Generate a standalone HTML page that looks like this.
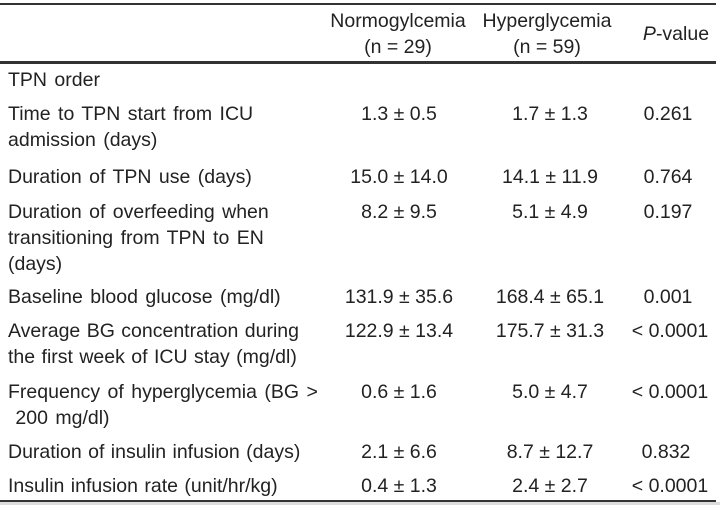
<!DOCTYPE html>
<html><head><meta charset="utf-8"><style>
body{margin:0;width:720px;height:505px;background:#fff;position:relative;overflow:hidden;font-family:"Liberation Sans",sans-serif;font-size:19.5px;color:#222}
.l{position:absolute;left:8px;line-height:26px;white-space:nowrap;word-spacing:2px}
.c{position:absolute;width:180px;margin-left:-90px;text-align:center;line-height:26px;white-space:nowrap}
.h{position:absolute;left:0;width:716px;background:#333}
</style></head><body>
<div class="h" style="top:3px;height:2px"></div>
<div class="h" style="top:61px;height:3px"></div>
<div class="h" style="top:500px;height:2px"></div>
<div style="position:absolute;left:0;top:502px;width:720px;height:3px;background:#ddd"></div>

<div class="c" style="left:398px;top:8px">Normogylcemia<br>(n = 29)</div>
<div class="c" style="left:547px;top:8px">Hyperglycemia<br>(n = 59)</div>
<div class="c" style="left:676px;top:21px"><i>P</i>-value</div>

<div class="l" style="top:67px">TPN order</div>
<div class="l" style="top:101px">Time to TPN start from ICU<br>admission (days)</div>
<div class="l" style="top:164px">Duration of TPN use (days)</div>
<div class="l" style="top:199px">Duration of overfeeding when<br>transitioning from TPN to EN<br>(days)</div>
<div class="l" style="top:284px">Baseline blood glucose (mg/dl)</div>
<div class="l" style="top:318px;word-spacing:1px">Average BG concentration during<br>the first week of ICU stay (mg/dl)</div>
<div class="l" style="top:379px">Frequency of hyperglycemia (BG &gt;<br>&nbsp;200 mg/dl)</div>
<div class="l" style="top:439px;word-spacing:1px">Duration of insulin infusion (days)</div>
<div class="l" style="top:473px;word-spacing:1px">Insulin infusion rate (unit/hr/kg)</div>

<div class="c" style="left:399px;top:101px">1.3 ± 0.5</div><div class="c" style="left:550px;top:101px">1.7 ± 1.3</div><div class="c" style="left:668px;top:101px">0.261</div>
<div class="c" style="left:399px;top:164px">15.0 ± 14.0</div><div class="c" style="left:550px;top:164px">14.1 ± 11.9</div><div class="c" style="left:668px;top:164px">0.764</div>
<div class="c" style="left:399px;top:199px">8.2 ± 9.5</div><div class="c" style="left:550px;top:199px">5.1 ± 4.9</div><div class="c" style="left:668px;top:199px">0.197</div>
<div class="c" style="left:399px;top:284px">131.9 ± 35.6</div><div class="c" style="left:550px;top:284px">168.4 ± 65.1</div><div class="c" style="left:668px;top:284px">0.001</div>
<div class="c" style="left:399px;top:318px">122.9 ± 13.4</div><div class="c" style="left:550px;top:318px">175.7 ± 31.3</div><div class="c" style="left:670px;top:318px">&lt; 0.0001</div>
<div class="c" style="left:399px;top:379px">0.6 ± 1.6</div><div class="c" style="left:550px;top:379px">5.0 ± 4.7</div><div class="c" style="left:670px;top:379px">&lt; 0.0001</div>
<div class="c" style="left:399px;top:439px">2.1 ± 6.6</div><div class="c" style="left:550px;top:439px">8.7 ± 12.7</div><div class="c" style="left:666px;top:439px">0.832</div>
<div class="c" style="left:399px;top:473px">0.4 ± 1.3</div><div class="c" style="left:550px;top:473px">2.4 ± 2.7</div><div class="c" style="left:670px;top:473px">&lt; 0.0001</div>
</body></html>
